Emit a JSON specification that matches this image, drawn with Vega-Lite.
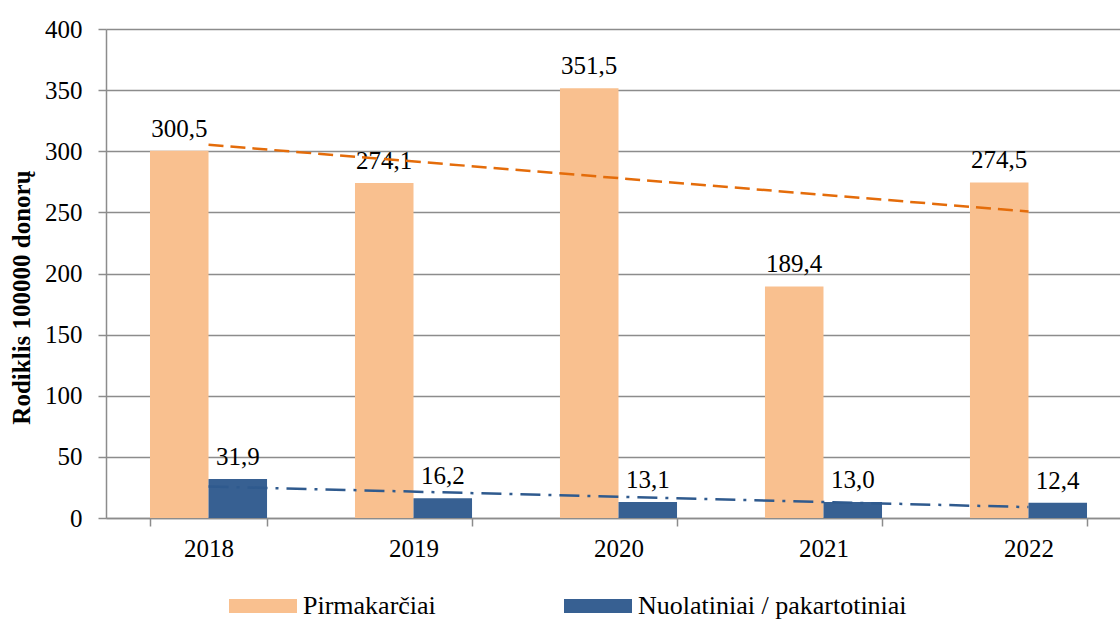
{
  "$schema": "https://vega.github.io/schema/vega-lite/v6.json",
  "width": 1014,
  "height": 489,
  "autosize": {"type": "none"},
  "padding": {"left": 106, "top": 29, "right": 0, "bottom": 101},
  "config": {
    "locale": {"number": {"decimal": ",", "thousands": " ", "grouping": [3], "currency": ["", " €"]}},
    "view": {"stroke": null},
    "font": "Liberation Serif"
  },
  "datasets": {
    "bars": [
      {"year": "2018", "series": "Pirmakarčiai", "value": 300.5},
      {"year": "2019", "series": "Pirmakarčiai", "value": 274.1},
      {"year": "2020", "series": "Pirmakarčiai", "value": 351.5},
      {"year": "2021", "series": "Pirmakarčiai", "value": 189.4},
      {"year": "2022", "series": "Pirmakarčiai", "value": 274.5},
      {"year": "2018", "series": "Nuolatiniai / pakartotiniai", "value": 31.9},
      {"year": "2019", "series": "Nuolatiniai / pakartotiniai", "value": 16.2},
      {"year": "2020", "series": "Nuolatiniai / pakartotiniai", "value": 13.1},
      {"year": "2021", "series": "Nuolatiniai / pakartotiniai", "value": 13.0},
      {"year": "2022", "series": "Nuolatiniai / pakartotiniai", "value": 12.4}
    ],
    "trend": [
      {"year": "2018", "series": "Pirmakarčiai", "value": 305.3},
      {"year": "2022", "series": "Pirmakarčiai", "value": 250.7},
      {"year": "2018", "series": "Nuolatiniai / pakartotiniai", "value": 25.8},
      {"year": "2022", "series": "Nuolatiniai / pakartotiniai", "value": 8.9}
    ]
  },
  "layer": [
    {
      "data": {"name": "bars"},
      "mark": {"type": "bar"},
      "encoding": {
        "x": {
          "field": "year", "type": "nominal",
          "scale": {"range": [0, 1025], "paddingInner": 0.429, "paddingOuter": 0.2146},
          "axis": {
            "title": null, "labelFontSize": 25, "labelFont": "Times New Roman", "labelColor": "black",
            "labelAngle": 0, "tickBand": "extent", "tickSize": 8, "tickColor": "#8C8C8C", "tickWidth": 1.5,
            "domainColor": "#8C8C8C", "domainWidth": 1.5, "labelPadding": 10, "grid": false
          }
        },
        "xOffset": {
          "field": "series", "type": "nominal",
          "sort": ["Pirmakarčiai", "Nuolatiniai / pakartotiniai"],
          "scale": {"paddingInner": 0, "paddingOuter": 0}
        },
        "y": {
          "field": "value", "type": "quantitative",
          "scale": {"domain": [0, 400]},
          "axis": {
            "title": "Rodiklis 100000 donorų", "titleFont": "Times New Roman", "titleFontSize": 25,
            "titleFontWeight": "bold", "titleColor": "black", "titlePadding": 10, "titleY": 268,
            "values": [0, 50, 100, 150, 200, 250, 300, 350, 400],
            "labelFontSize": 25, "labelFont": "Times New Roman", "labelColor": "black", "labelPadding": 16,
            "tickSize": 8, "tickColor": "#8C8C8C", "tickWidth": 1.5,
            "gridColor": "#8C8C8C", "gridWidth": 1.5,
            "domainColor": "#8C8C8C", "domainWidth": 1.5
          }
        },
        "color": {
          "field": "series", "type": "nominal",
          "sort": ["Pirmakarčiai", "Nuolatiniai / pakartotiniai"],
          "scale": {"domain": ["Pirmakarčiai", "Nuolatiniai / pakartotiniai"], "range": ["#F9C08F", "#376092"]},
          "legend": {
            "title": null, "orient": "none", "legendX": 123, "legendY": 543, "direction": "horizontal",
            "padding": 0, "symbolType": "M-1,-0.206L1,-0.206L1,0.206L-1,0.206Z", "symbolSize": 4624,
            "symbolStrokeWidth": 0, "labelFontSize": 26, "labelFont": "Times New Roman", "labelColor": "black",
            "labelOffset": 6, "columnPadding": 128, "labelLimit": 400
          }
        }
      }
    },
    {
      "data": {"name": "bars"},
      "mark": {"type": "text", "dy": -22, "fontSize": 25, "font": "Times New Roman", "color": "black"},
      "encoding": {
        "x": {"field": "year", "type": "nominal"},
        "xOffset": {"field": "series", "type": "nominal", "sort": ["Pirmakarčiai", "Nuolatiniai / pakartotiniai"]},
        "y": {"field": "value", "type": "quantitative"},
        "text": {"field": "value", "type": "quantitative", "format": ".1f"}
      }
    },
    {
      "data": {"name": "trend"},
      "transform": [{"filter": "datum.series == 'Pirmakarčiai'"}],
      "mark": {"type": "line", "color": "#E46C0A", "strokeWidth": 2.5, "strokeDash": [15, 7]},
      "encoding": {
        "x": {"field": "year", "type": "nominal"},
        "y": {"field": "value", "type": "quantitative"}
      }
    },
    {
      "data": {"name": "trend"},
      "transform": [{"filter": "datum.series == 'Nuolatiniai / pakartotiniai'"}],
      "mark": {"type": "line", "color": "#2F5A8E", "strokeWidth": 2.5, "strokeDash": [20, 8, 3, 8]},
      "encoding": {
        "x": {"field": "year", "type": "nominal"},
        "y": {"field": "value", "type": "quantitative"}
      }
    }
  ]
}
